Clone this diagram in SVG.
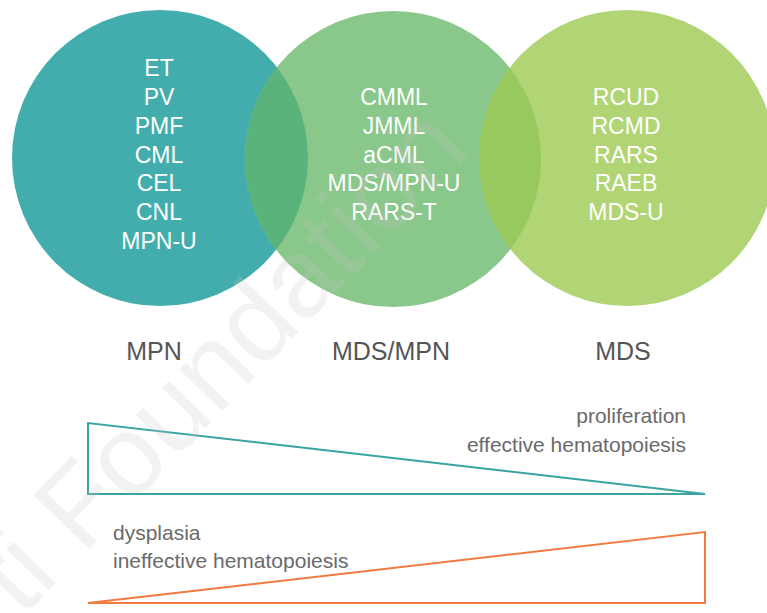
<svg xmlns="http://www.w3.org/2000/svg" width="767" height="613" viewBox="0 0 767 613">
<style>
.in{font-family:"Liberation Sans",Arial,sans-serif;font-size:23px;fill:#ffffff;text-anchor:middle}
.lbl{font-family:"Liberation Sans",Arial,sans-serif;font-size:25px;fill:#555555;text-anchor:middle}
.sm{font-family:"Liberation Sans",Arial,sans-serif;font-size:21px;fill:#6a6a6a}
.wm{font-family:"Liberation Sans",Arial,sans-serif;font-size:112px;fill:#c8c8c8;opacity:0.22}
</style>
<defs>
<clipPath id="cm"><circle cx="393" cy="159" r="148"/></clipPath>
</defs>
<rect width="767" height="613" fill="#ffffff"/>
<g id="mpn">
<circle cx="160" cy="158" r="148" fill="#43adad"/>
</g>
<g id="mdsmpn">
<circle cx="393" cy="159" r="148" fill="#8ac78a"/>
</g>
<g id="mds">
<circle cx="627" cy="158" r="148" fill="#b1d575"/>
</g>
<g id="overlaps">
<circle cx="160" cy="158" r="148" fill="#5bb37c" clip-path="url(#cm)"/>
<circle cx="627" cy="158" r="148" fill="#97c95e" clip-path="url(#cm)"/>
</g>
<g id="mpn-list">
<text class="in" x="159" y="76">ET</text>
<text class="in" x="159" y="105">PV</text>
<text class="in" x="159" y="134">PMF</text>
<text class="in" x="159" y="163">CML</text>
<text class="in" x="159" y="191">CEL</text>
<text class="in" x="159" y="220">CNL</text>
<text class="in" x="159" y="249">MPN-U</text>
</g>
<g id="mdsmpn-list">
<text class="in" x="394" y="105">CMML</text>
<text class="in" x="394" y="134">JMML</text>
<text class="in" x="394" y="163">aCML</text>
<text class="in" x="394" y="191">MDS/MPN-U</text>
<text class="in" x="394" y="220">RARS-T</text>
</g>
<g id="mds-list">
<text class="in" x="626" y="105">RCUD</text>
<text class="in" x="626" y="134">RCMD</text>
<text class="in" x="626" y="163">RARS</text>
<text class="in" x="626" y="191">RAEB</text>
<text class="in" x="626" y="220">MDS-U</text>
</g>
<g id="labels">
<text class="lbl" x="154" y="360">MPN</text>
<text class="lbl" x="391" y="360">MDS/MPN</text>
<text class="lbl" x="623" y="360">MDS</text>
</g>
<g id="prolif">
<polygon points="88,423 88,494 705,494" fill="none" stroke="#3aa5a0" stroke-width="2"/>
<text class="sm" x="686" y="423" text-anchor="end">proliferation</text>
<text class="sm" x="686" y="452" text-anchor="end">effective hematopoiesis</text>
</g>
<g id="dysplasia">
<polygon points="88,603 705,532 705,603" fill="none" stroke="#f07a40" stroke-width="2"/>
<text class="sm" x="113" y="540">dysplasia</text>
<text class="sm" x="113" y="568">ineffective hematopoiesis</text>
</g>
<text class="wm" transform="translate(472,152) rotate(-46)" text-anchor="end">ti Foundation</text>
</svg>
